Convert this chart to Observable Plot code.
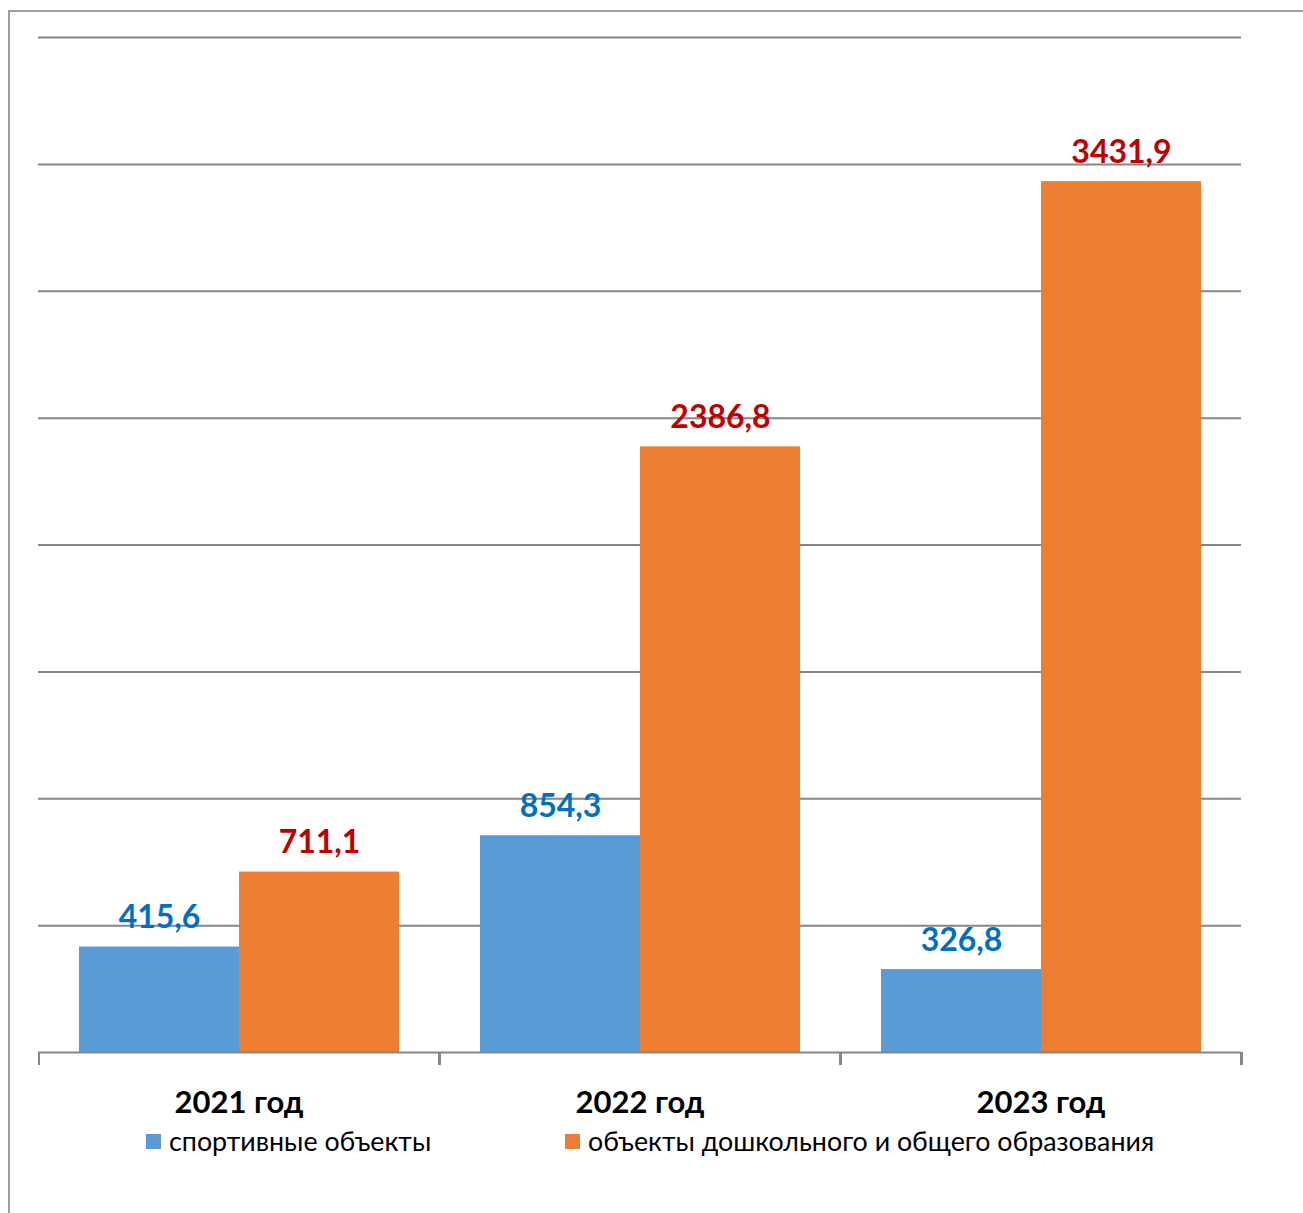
<!DOCTYPE html>
<html>
<head>
<meta charset="utf-8">
<script src="https://cdn.jsdelivr.net/npm/d3@7"></script>
<script src="https://cdn.jsdelivr.net/npm/@observablehq/plot@0.6"></script>
<style>
  html, body { margin: 0; padding: 0; background: #fff; overflow: hidden; }
  #page { position: relative; width: 1303px; height: 1213px; font-family: Lato, "Open Sans", sans-serif; }
  #frame { position: absolute; left: 8px; top: 10px; width: 1400px; height: 1400px; border: 2px solid #9c9c9c; box-sizing: border-box; }
  #chart { position: absolute; left: 0; top: 0; }
  #legend { position: absolute; top: 1126px; left: 0; width: 1303px; height: 30px; font-size: 26.8px; color: #000; }
  .item { position: absolute; top: 0; display: flex; align-items: center; height: 30px; white-space: nowrap; }
  .sw { width: 15px; height: 15px; margin-right: 8px; }
</style>
</head>
<body>
<div id="page">
  <div id="frame"></div>
  <div id="chart"></div>
  <div id="legend"></div>
</div>
<script>
const years = ["2021 год", "2022 год", "2023 год"];
const seriesNames = ["спортивные объекты", "объекты дошкольного и общего образования"];
const sportValues = [415.6, 854.3, 326.8];
const eduValues = [711.1, 2386.8, 3431.9];
const barColors = ["#5B9BD5", "#ED7D31"];
const labelColors = ["#0070C0", "#C00000"];
const legendLeft = [146, 565];

const data = [];
years.forEach((y, i) => {
  data.push({year: y, series: seriesNames[0], value: sportValues[i]});
  data.push({year: y, series: seriesNames[1], value: eduValues[i]});
});
const fmt = v => v.toFixed(1).replace(".", ",");

const boundaryTicks = (index, scales, values, dim) => {
  const g = d3.create("svg:g").attr("stroke", "#868686").attr("stroke-width", 2);
  const y0 = scales.y(0);
  const xs = years.map(d => scales.fx(d));
  xs.push(dim.width - dim.marginRight);
  xs.forEach(x => g.append("line").attr("x1", x).attr("x2", x).attr("y1", y0).attr("y2", y0 + 13));
  return g.node();
};

const chart = Plot.plot({
  width: 1303,
  height: 1120,
  marginLeft: 37,
  marginRight: 61,
  marginTop: 37,
  marginBottom: 68,
  style: {fontFamily: "Lato, 'Open Sans', sans-serif", background: "transparent"},
  fx: {domain: years, padding: 0, label: null},
  x: {domain: seriesNames, paddingInner: 0, paddingOuter: 0.25, axis: null},
  y: {domain: [0, 4000], ticks: d3.range(0, 4001, 500), axis: null},
  color: {domain: seriesNames, range: barColors},
  marks: [
    Plot.gridY(d3.range(500, 4001, 500), {stroke: "#868686", strokeOpacity: 1, strokeWidth: 2}),
    Plot.barY(data, {fx: "year", x: "series", y: "value", fill: "series"}),
    Plot.ruleY([0], {stroke: "#868686", strokeWidth: 2}),
    Plot.text(data, {
      fx: "year", x: "series", y: "value",
      text: d => fmt(d.value),
      fill: d => labelColors[seriesNames.indexOf(d.series)],
      lineAnchor: "bottom", dy: -19,
      fontSize: 32, fontWeight: "bold"
    }),
    Plot.axisFx({anchor: "bottom", tickSize: 0, tickPadding: 38, fontSize: 31, fontWeight: "bold", label: null, color: "#000"}),
    boundaryTicks
  ]
});
document.getElementById("chart").appendChild(chart);

const legend = document.getElementById("legend");
seriesNames.forEach((name, i) => {
  const item = document.createElement("div");
  item.className = "item";
  item.style.left = legendLeft[i] + "px";
  const sw = document.createElement("div");
  sw.className = "sw";
  sw.style.background = barColors[i];
  const t = document.createElement("span");
  t.textContent = name;
  item.appendChild(sw);
  item.appendChild(t);
  legend.appendChild(item);
});
</script>
</body>
</html>
